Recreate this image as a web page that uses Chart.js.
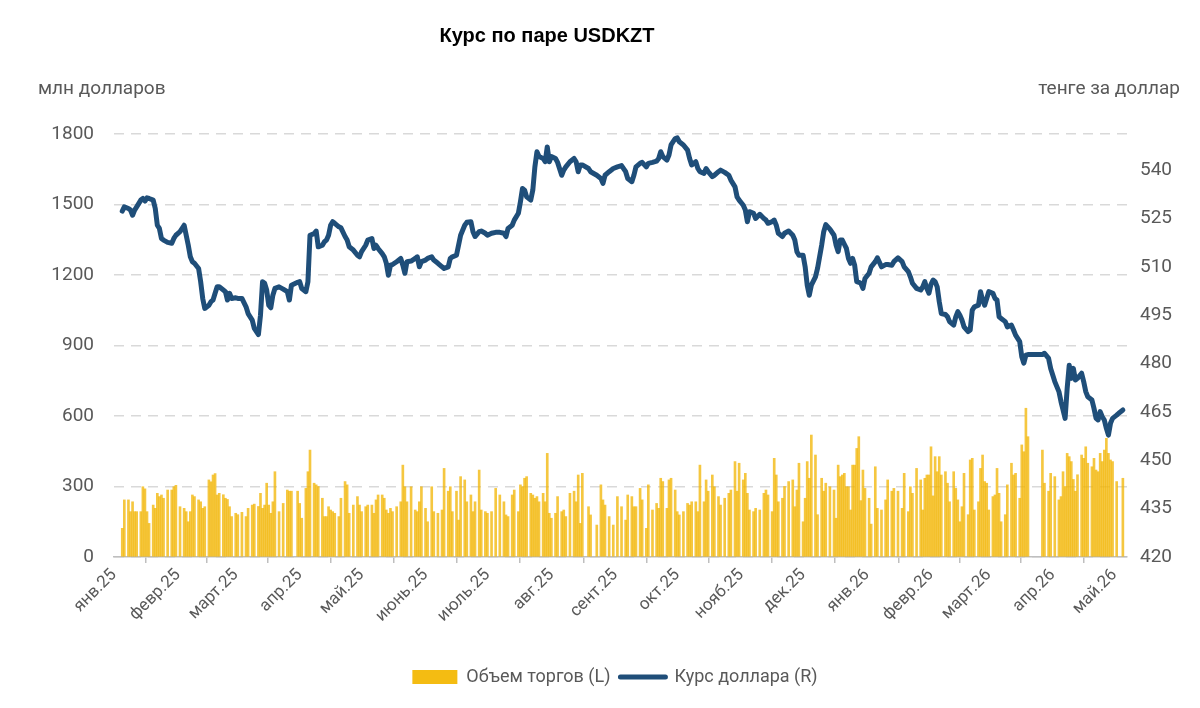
<!DOCTYPE html>
<html lang="ru">
<head>
<meta charset="utf-8">
<title>Курс по паре USDKZT</title>
<script src="https://cdn.jsdelivr.net/npm/chart.js@4.4.1/dist/chart.umd.min.js"></script>
<style>
  html, body { margin: 0; padding: 0; background: #ffffff; }
  #wrap { position: relative; width: 1200px; height: 708px; overflow: hidden; }
  #c { position: absolute; left: 0; top: 0; }
  .txt { position: absolute; white-space: nowrap; font-family: Roboto, "Noto Sans", sans-serif; color: #595959; }
  #title { left: 0; width: 1094px; top: 23px; text-align: center; font: bold 20px "Liberation Sans", Arial, sans-serif; color: #000; line-height: 24px; }
  #lt { left: 38px; top: 76px; font-size: 19px; line-height: 24px; }
  #rt { right: 20px; top: 76px; font-size: 19px; line-height: 24px; }
</style>
</head>
<body>
<div id="wrap">
  <canvas id="c" width="1200" height="708"></canvas>
  <div class="txt" id="title">Курс по паре USDKZT</div>
  <div class="txt" id="lt">млн долларов</div>
  <div class="txt" id="rt">тенге за доллар</div>
</div>
<script>
// ---------- DATA ----------
const seriesNames = ['Объем торгов (L)', 'Курс доллара (R)'];

const monthLabels = ['янв.25','февр.25','март.25','апр.25','май.25','июнь.25','июль.25','авг.25','сент.25','окт.25','нояб.25','дек.25','янв.26','февр.26','март.26','апр.26','май.26'];
const monthStarts = ['2025-01-01','2025-02-01','2025-03-01','2025-04-01','2025-05-01','2025-06-01','2025-07-01','2025-08-01','2025-09-01','2025-10-01','2025-11-01','2025-12-01','2026-01-01','2026-02-01','2026-03-01','2026-04-01','2026-05-01'];

const leftTicks = [0, 300, 600, 900, 1200, 1500, 1800];
const rightTicks = [420, 435, 450, 465, 480, 495, 510, 525, 540];

const dates = [
'2025-01-05','2025-01-06','2025-01-08','2025-01-09','2025-01-10','2025-01-11','2025-01-12','2025-01-14','2025-01-15','2025-01-16',
'2025-01-17','2025-01-18','2025-01-20','2025-01-21','2025-01-22','2025-01-23','2025-01-24','2025-01-25','2025-01-27','2025-01-29',
'2025-01-30','2025-01-31','2025-02-02','2025-02-04','2025-02-05','2025-02-06','2025-02-07','2025-02-08','2025-02-09','2025-02-11',
'2025-02-12','2025-02-13','2025-02-14','2025-02-16','2025-02-17','2025-02-18','2025-02-19','2025-02-20','2025-02-21','2025-02-23',
'2025-02-24','2025-02-25','2025-02-26','2025-02-27','2025-03-01','2025-03-02','2025-03-04','2025-03-06','2025-03-07','2025-03-09',
'2025-03-10','2025-03-12','2025-03-13','2025-03-14','2025-03-15','2025-03-16','2025-03-17','2025-03-18','2025-03-19','2025-03-20',
'2025-03-22','2025-03-24','2025-03-26','2025-03-27','2025-03-28','2025-03-31','2025-04-01','2025-04-02','2025-04-04','2025-04-05',
'2025-04-06','2025-04-08','2025-04-09','2025-04-10','2025-04-12','2025-04-13','2025-04-14','2025-04-15','2025-04-16','2025-04-17',
'2025-04-18','2025-04-20','2025-04-21','2025-04-23','2025-04-24','2025-04-25','2025-04-27','2025-04-29','2025-04-30','2025-05-01',
'2025-05-03','2025-05-04','2025-05-06','2025-05-07','2025-05-08','2025-05-09','2025-05-11','2025-05-12','2025-05-13','2025-05-14',
'2025-05-15','2025-05-16','2025-05-18','2025-05-20','2025-05-21','2025-05-22','2025-05-23','2025-05-25','2025-05-27','2025-05-28',
'2025-05-29','2025-05-30','2025-06-01','2025-06-02','2025-06-04','2025-06-05','2025-06-07','2025-06-09','2025-06-10','2025-06-12',
'2025-06-13','2025-06-14','2025-06-16','2025-06-17','2025-06-18','2025-06-20','2025-06-21','2025-06-23','2025-06-24','2025-06-25',
'2025-06-27','2025-06-28','2025-06-30','2025-07-01','2025-07-03','2025-07-05','2025-07-07','2025-07-09','2025-07-10','2025-07-11',
'2025-07-13','2025-07-14','2025-07-16','2025-07-17','2025-07-18','2025-07-19','2025-07-20','2025-07-22','2025-07-23','2025-07-24',
'2025-07-25','2025-07-26','2025-07-28','2025-07-29','2025-07-30','2025-07-31','2025-08-01','2025-08-03','2025-08-04','2025-08-06',
'2025-08-07','2025-08-08','2025-08-10','2025-08-12','2025-08-13','2025-08-14','2025-08-15','2025-08-16','2025-08-19','2025-08-20',
'2025-08-23','2025-08-25','2025-08-26','2025-08-27','2025-08-29','2025-08-31','2025-09-02','2025-09-04','2025-09-06','2025-09-07',
'2025-09-09','2025-09-10','2025-09-11','2025-09-13','2025-09-14','2025-09-16','2025-09-17','2025-09-19','2025-09-21','2025-09-22',
'2025-09-23','2025-09-24','2025-09-26','2025-09-27','2025-09-28','2025-09-30','2025-10-01','2025-10-02','2025-10-04','2025-10-06',
'2025-10-07','2025-10-08','2025-10-10','2025-10-11','2025-10-12','2025-10-14','2025-10-15','2025-10-16','2025-10-18','2025-10-19',
'2025-10-21','2025-10-22','2025-10-24','2025-10-26','2025-10-27','2025-10-29','2025-10-30','2025-10-31','2025-11-02','2025-11-03',
'2025-11-04','2025-11-05','2025-11-07','2025-11-08','2025-11-10','2025-11-12','2025-11-13','2025-11-14','2025-11-16','2025-11-17',
'2025-11-18','2025-11-19','2025-11-21','2025-11-22','2025-11-24','2025-11-26','2025-11-27','2025-11-28','2025-11-29','2025-12-01',
'2025-12-02','2025-12-03','2025-12-04','2025-12-05','2025-12-07','2025-12-08','2025-12-10','2025-12-11','2025-12-12','2025-12-14',
'2025-12-16','2025-12-17','2025-12-18','2025-12-19','2025-12-20','2025-12-21','2025-12-22','2025-12-23','2025-12-24','2025-12-25',
'2025-12-26','2025-12-27','2025-12-28','2025-12-29','2025-12-30','2025-12-31','2026-01-02','2026-01-03','2026-01-05','2026-01-06',
'2026-01-08','2026-01-10','2026-01-11','2026-01-13','2026-01-14','2026-01-16','2026-01-18','2026-01-19','2026-01-21','2026-01-22',
'2026-01-23','2026-01-25','2026-01-27','2026-01-28','2026-01-29','2026-01-30','2026-01-31','2026-02-01','2026-02-02','2026-02-03',
'2026-02-04','2026-02-05','2026-02-06','2026-02-08','2026-02-09','2026-02-10','2026-02-12','2026-02-13','2026-02-14','2026-02-15',
'2026-02-16','2026-02-17','2026-02-19','2026-02-20','2026-02-21','2026-02-22','2026-02-24','2026-02-25','2026-02-26','2026-02-27',
'2026-02-28','2026-03-01','2026-03-03','2026-03-04','2026-03-05','2026-03-06','2026-03-07','2026-03-09','2026-03-10','2026-03-12',
'2026-03-13','2026-03-14','2026-03-16','2026-03-17','2026-03-18','2026-03-19','2026-03-20','2026-03-23','2026-03-27','2026-03-28',
'2026-03-30','2026-03-31','2026-04-02','2026-04-04','2026-04-05','2026-04-06','2026-04-07','2026-04-08','2026-04-09','2026-04-10',
'2026-04-11','2026-04-12','2026-04-13','2026-04-15','2026-04-16','2026-04-17','2026-04-18','2026-04-20','2026-04-21','2026-04-22',
'2026-04-23','2026-04-24','2026-04-25','2026-04-26','2026-04-27','2026-04-28','2026-04-29','2026-04-30','2026-05-02','2026-05-03',
'2026-05-05'
];

// Курс доллара, тенге за доллар (R)
const rate = [
527.3,528.6,528.1,527.6,526.0,527.6,528.6,530.7,531.2,530.4,
531.4,531.2,530.7,528.1,522.9,521.9,518.8,518.3,517.6,517.3,
518.8,519.8,520.9,522.9,519.8,516.7,513.1,511.6,511.1,509.5,
505.4,500.2,497.1,498.1,499.2,499.7,501.8,503.8,503.8,502.8,
502.3,499.7,501.8,500.2,500.4,500.2,500.2,497.6,495.5,493.5,
490.9,489.0,495.0,505.4,504.9,502.8,498.1,497.3,501.2,503.3,
503.8,503.1,502.3,499.7,504.3,505.2,505.4,503.3,502.3,505.4,
519.8,520.3,521.1,516.2,516.7,517.8,518.3,519.8,522.9,524.0,
523.5,522.4,522.1,519.4,518.3,516.2,515.2,513.6,513.1,514.7,
516.7,518.3,518.8,515.7,516.7,515.7,514.1,513.1,511.1,507.4,
510.5,510.7,511.6,512.6,510.5,508.0,511.6,511.8,512.6,513.1,
510.0,511.6,512.1,512.6,513.1,512.1,511.1,510.0,509.5,510.0,
512.6,513.1,513.6,516.7,519.8,522.9,523.8,524.0,520.9,519.4,
520.9,521.1,520.4,519.8,520.4,520.7,520.7,520.4,519.4,521.9,
522.9,524.5,526.6,530.2,534.3,533.8,531.7,530.7,533.8,541.0,
545.7,544.2,543.6,542.6,547.2,542.6,544.2,543.6,542.4,538.4,
540.0,541.0,542.6,543.6,542.6,539.5,541.6,541.6,540.5,539.5,
538.4,537.4,535.9,538.4,539.5,540.5,541.0,541.4,539.5,537.4,
536.4,538.4,541.0,542.1,542.4,541.0,542.1,542.4,542.8,543.6,
545.7,544.2,543.1,544.7,547.8,549.8,550.0,548.8,547.8,546.2,
543.6,541.6,542.6,540.5,539.5,539.0,540.5,539.5,538.0,538.4,
539.5,540.0,539.3,538.4,536.9,534.8,531.7,530.7,529.1,527.6,
524.0,527.1,526.6,525.0,526.3,525.0,524.5,523.5,524.0,524.5,
522.9,520.4,519.4,520.4,521.1,519.8,518.3,514.7,513.6,513.6,
510.0,504.3,501.2,504.3,506.9,509.5,516.7,520.9,523.1,521.7,
519.8,516.7,514.7,518.3,518.3,517.0,515.7,512.6,511.1,512.6,
510.5,505.4,505.2,504.9,503.3,506.4,508.0,510.0,511.6,512.8,
510.0,510.7,510.7,510.5,511.6,512.8,511.6,510.0,508.5,506.9,
504.9,503.3,502.8,503.8,505.4,503.3,501.8,504.6,505.9,505.4,
503.8,499.2,495.5,495.2,494.5,493.0,491.9,494.5,496.1,495.0,
493.5,491.4,489.9,490.4,496.6,497.6,498.1,502.3,499.7,498.1,
500.2,502.3,501.8,500.2,499.7,494.5,494.0,493.0,491.4,491.9,
490.4,488.8,486.8,482.1,480.1,482.6,482.8,482.8,482.8,483.2,
481.6,478.5,474.4,471.3,468.2,465.6,463.0,472.3,479.5,475.4,
478.5,474.9,475.4,477.0,474.4,471.3,469.7,468.7,466.1,463.0,
462.5,465.1,463.5,462.5,459.9,457.8,461.5,463.0,464.0,464.6,
465.6
];

// Объем торгов, млн долларов (L)
const volume = [
122,243,243,193,235,193,193,193,299,290,
193,143,221,207,271,257,264,250,285,285,
299,305,214,207,193,150,193,264,257,243,
235,207,214,328,320,349,355,264,271,265,
250,245,214,172,186,180,190,172,207,221,
225,215,271,207,221,314,221,186,235,363,
193,228,285,280,280,280,228,165,292,363,
455,314,307,300,250,172,172,214,200,193,
186,172,250,321,307,186,221,257,221,193,
214,221,221,186,243,264,264,250,200,186,
207,193,214,235,391,299,235,299,200,193,
235,299,207,150,299,193,186,200,377,280,
299,193,280,157,342,328,235,264,193,235,
370,200,193,186,193,292,264,235,179,172,
264,285,193,307,299,335,342,271,264,250,
257,235,271,235,441,186,165,186,257,193,
200,172,271,280,235,349,143,356,214,179,
136,307,243,221,172,136,257,214,157,264,
257,214,214,292,243,122,307,200,228,207,
335,321,207,328,335,285,193,179,193,228,
221,235,235,193,391,235,328,280,349,299,
257,221,250,271,285,406,280,399,328,356,
271,200,193,207,200,271,285,264,193,420,
349,235,250,300,321,328,214,285,399,150,
250,406,335,519,434,180,335,280,314,299,
285,165,391,342,349,356,299,299,200,391,
391,462,512,240,370,292,250,140,384,207,
200,243,328,280,292,280,207,356,193,299,
271,377,328,200,335,349,349,469,260,427,
363,427,349,363,314,235,363,292,243,150,
214,356,180,413,420,200,235,377,434,321,
314,200,257,264,377,271,150,180,307,399,
349,356,250,477,448,633,512,null,455,314,
280,356,342,243,257,363,300,441,427,406,
330,280,350,434,420,469,399,384,420,370,
363,441,406,455,505,441,413,406,321,null,
335
];

// ---------- CHART ----------
const DAY = 86400000;
const base = Date.parse('2025-01-01');
const dayOf = (s) => Math.round((Date.parse(s) - base) / DAY);

const COL_LINE = '#1F4E79';
const COL_BAR = 'rgba(242,180,0,0.75)';
const COL_TEXT = '#595959';
const FONT = 'Roboto, "Noto Sans", sans-serif';

const W = 1200, H = 708;
const AREA = { left: 114, right: 1127, top: 134, bottom: 557 };
const PAD = { left: 30, right: 0, top: AREA.top, bottom: 12 };

const lineData = dates.map((d, i) => ({ x: dayOf(d), y: rate[i] }));
const barData = dates.map((d, i) => ({ x: dayOf(d), y: volume[i] }));

new Chart(document.getElementById('c'), {
  data: {
    datasets: [
      {
        type: 'line',
        label: seriesNames[1],
        data: lineData,
        yAxisID: 'y1',
        borderColor: COL_LINE,
        backgroundColor: COL_LINE,
        borderWidth: 5,
        pointRadius: 0,
        pointHoverRadius: 0,
        tension: 0,
        borderJoinStyle: 'round',
        borderCapStyle: 'round'
      },
      {
        type: 'bar',
        label: seriesNames[0],
        data: barData,
        yAxisID: 'y',
        backgroundColor: COL_BAR,
        borderWidth: 0,
        barThickness: 2
      }
    ]
  },
  options: {
    responsive: false,
    animation: false,
    devicePixelRatio: 1,
    layout: { padding: PAD },
    plugins: {
      title: { display: false },
      tooltip: { enabled: false },
      legend: {
        display: true,
        position: 'bottom',
        labels: {
          usePointStyle: true,
          pointStyleWidth: 45,
          boxHeight: 14,
          padding: 10,
          color: COL_TEXT,
          font: { family: FONT, size: 18 },
          sort: (a, b) => b.datasetIndex - a.datasetIndex,
          generateLabels: (chart) => {
            const items = Chart.defaults.plugins.legend.labels.generateLabels(chart);
            items.forEach((it) => {
              if (it.datasetIndex === 0) {
                it.pointStyle = 'line';
                it.strokeStyle = COL_LINE;
                it.lineWidth = 5;
                it.lineCap = 'round';
              } else {
                it.pointStyle = 'rect';
                it.fillStyle = '#F4BC12';
                it.lineWidth = 0;
              }
            });
            return items;
          }
        }
      }
    },
    scales: {
      x: {
        type: 'linear',
        min: 0,
        max: 491,
        offset: false,
        afterBuildTicks: (s) => { s.ticks = monthStarts.map((d) => ({ value: dayOf(d) })); },
        afterFit: (s) => { s.height = H - PAD.bottom - s.chart.legend.height - AREA.bottom; },
        ticks: {
          autoSkip: false,
          maxRotation: 45,
          minRotation: 45,
          padding: 2,
          color: COL_TEXT,
          font: { family: FONT, size: 17 },
          callback: (v, i) => monthLabels[i]
        },
        grid: { display: true, drawOnChartArea: false, drawTicks: true, tickLength: 6, color: '#BFBFBF', lineWidth: 1.5 },
        border: { display: true, color: '#BFBFBF', width: 1.5 }
      },
      y: {
        type: 'linear',
        position: 'left',
        min: 0,
        max: 1800,
        afterBuildTicks: (s) => { s.ticks = leftTicks.map((v) => ({ value: v })); },
        afterFit: (s) => { s.width = AREA.left - PAD.left; },
        ticks: { padding: 20, color: COL_TEXT, font: { family: FONT, size: 19 }, callback: (v) => String(v) },
        grid: { display: true, drawTicks: false, color: '#D9D9D9', lineWidth: 1.5 },
        border: { display: false, dash: [10, 7] }
      },
      y1: {
        type: 'linear',
        position: 'right',
        min: 420,
        max: 551.2,
        afterBuildTicks: (s) => { s.ticks = rightTicks.map((v) => ({ value: v })); },
        afterFit: (s) => { s.width = W - PAD.right - AREA.right; },
        ticks: { padding: 13, color: COL_TEXT, font: { family: FONT, size: 19 }, callback: (v) => String(v) },
        grid: { display: false, drawTicks: false },
        border: { display: false }
      }
    }
  }
});
</script>
</body>
</html>
